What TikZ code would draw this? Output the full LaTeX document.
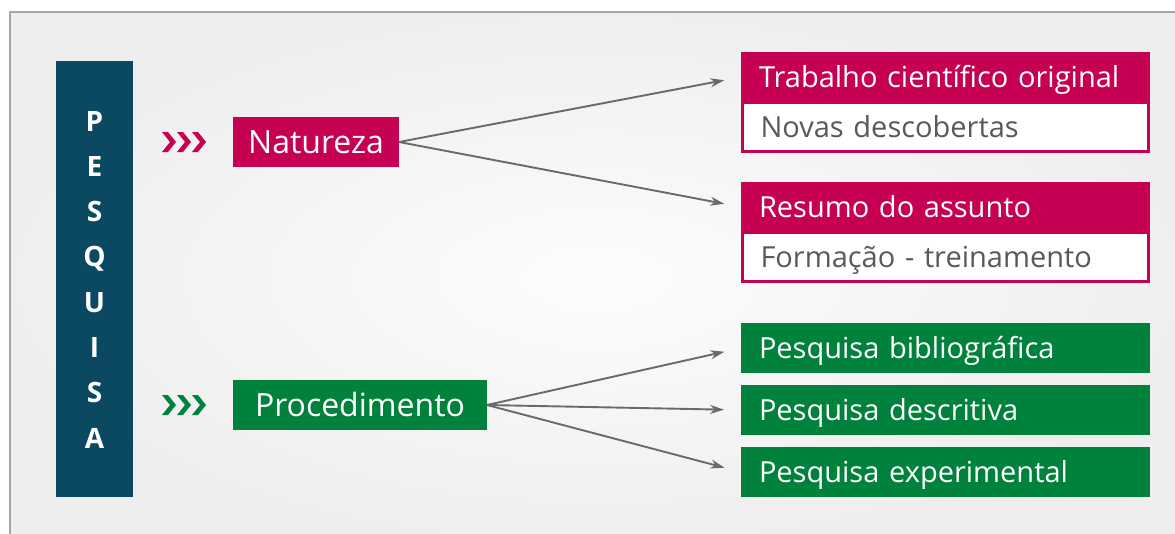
\documentclass[tikz,border=0pt]{standalone}
\usepackage{fontspec}
\setmainfont{Open Sans}
\usetikzlibrary{arrows.meta}
\definecolor{natred}{RGB}{198,0,82}
\definecolor{procgreen}{RGB}{0,130,60}
\definecolor{barblue}{RGB}{11,72,98}
\definecolor{linegray}{RGB}{105,106,109}
\definecolor{txtgray}{RGB}{88,89,91}
\definecolor{framegray}{RGB}{165,166,168}

\begin{document}
\begin{tikzpicture}[x=1pt,y=-1pt,inner sep=0pt,outer sep=0pt,
mainbox/.style={rectangle,anchor=west,minimum height=50pt,text=white,text height=23pt,text depth=0pt,font=\fontsize{32}{32}\selectfont},
itembox/.style={rectangle,anchor=north west,minimum height=50pt,text width=373pt,inner xsep=18pt,align=left,text height=20pt,text depth=0pt,font=\fontsize{29}{29}\selectfont},
titlered/.style={itembox,fill=natred,text=white},
bodyred/.style={itembox,fill=white,draw=natred,line width=3pt,text=txtgray,text width=370pt,minimum height=49pt},
itemgreen/.style={itembox,fill=procgreen,text=white},
link/.style={draw=linegray,line width=1.9pt,-{Stealth[length=14pt,width=9pt]},shorten >=17pt}]

\useasboundingbox (0,0) rectangle (1175,533);
\clip (0,0) rectangle (1175,533);
% background and frame
\fill[white] (0,0) rectangle (1175,533);
\shade[inner color=gray!2,outer color=gray!13] (10,12) rectangle (1185,545);
\draw[framegray,line width=2pt] (10,545) -- (10,12) -- (1185,12);

% vertical bar
\node[fill=barblue,minimum width=77pt,minimum height=436pt,anchor=north west] (bar) at (56,61) {};
\foreach \ch [count=\i from 0] in {P,E,S,Q,U,I,S,A}
  \node[text=white,text height=20pt,text depth=0pt,font=\bfseries\fontsize{28}{28}\selectfont] (L\i) at (94.5,121+45.3*\i) {\ch};

% chevrons
\foreach \dx in {0,15,30} {
  \fill[natred] (162+\dx,132) -- ++(6,0) -- ++(8,10) -- ++(-8,10) -- ++(-6,0) -- ++(8,-10) -- cycle;
  \fill[procgreen] (162+\dx,395) -- ++(6,0) -- ++(8,10) -- ++(-8,10) -- ++(-6,0) -- ++(8,-10) -- cycle;
}

% main boxes
\node[mainbox,fill=natred,minimum width=166pt] (nat) at (233,142) {Natureza};
\node[mainbox,fill=procgreen,minimum width=254pt] (proc) at (233,405) {Procedimento};

% right side
\node[bodyred] (b1) at (742.5,102.5) {Novas descobertas};
\node[titlered] (t1) at (741,52) {Trabalho científico original};
\node[bodyred] (b2) at (742.5,232.5) {Formação - treinamento};
\node[titlered] (t2) at (741,182) {Resumo do assunto};

\node[itemgreen] (g1) at (741,323) {Pesquisa bibliográfica};
\node[itemgreen] (g2) at (741,385) {Pesquisa descritiva};
\node[itemgreen] (g3) at (741,447) {Pesquisa experimental};

% connectors
\draw[link] (nat.east) -- (t1.west);
\draw[link] (nat.east) -- (t2.west);
\draw[link] (proc.east) -- (g1.west);
\draw[link] (proc.east) -- (g2.west);
\draw[link] (proc.east) -- (g3.west);
\end{tikzpicture}
\end{document}
